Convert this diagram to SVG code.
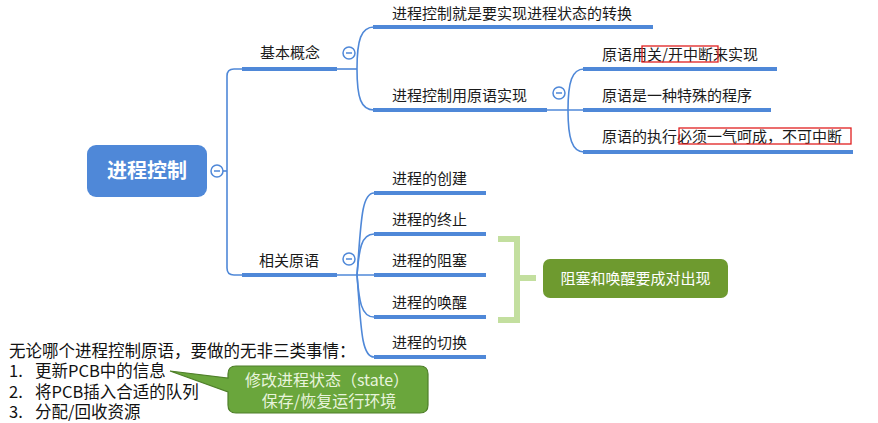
<svg xmlns="http://www.w3.org/2000/svg" width="878" height="423" viewBox="0 0 878 423">
<style>
.t{font-family:"Noto Sans CJK SC","Liberation Sans",sans-serif;font-size:15px;fill:#1a1a1a}
.ln{fill:none;stroke:#4f88d8;stroke-width:1.6}
.ul{stroke:#4f88d8;stroke-width:4}
.col circle{fill:#fff;stroke:#4f88d8;stroke-width:1.5}
.col line{stroke:#4f88d8;stroke-width:1.5}
.red{fill:none;stroke:#e02020;stroke-width:1.3}
.b{font-family:"Noto Sans CJK SC","Liberation Sans",sans-serif;font-size:16.500px;fill:#111}
</style>
<defs>
<g id="minus" class="col"><circle r="6"/><line x1="-3" y1="0" x2="3" y2="0"/></g>
</defs>

<g id="connectors">
  <line class="ln" x1="223" y1="171" x2="227" y2="171"/>
  <path class="ln" d="M242,69 H234 Q227,69 227,76 V268 Q227,275 234,275 H242"/>
  <line class="ln" x1="337" y1="69" x2="357" y2="69"/>
  <line class="ln" x1="337" y1="275" x2="374" y2="275"/>
  <path class="ln" d="M357,69 C357,40 361,27 374,27"/>
  <path class="ln" d="M357,69 C357,98 361,110 374,110"/>
  <line class="ln" x1="547" y1="110" x2="583" y2="110"/>
  <path class="ln" d="M568,110 C568,82 572,69 584,69"/>
  <path class="ln" d="M568,110 C568,138 572,152 584,152"/>
  <path class="ln" d="M357,275 C361,225 361,193 374,193"/>
  <path class="ln" d="M357,275 C359,250 361,234 374,234"/>
  <path class="ln" d="M357,275 C359,300 361,317 374,317"/>
  <path class="ln" d="M357,275 C361,325 361,357 374,357"/>
  <g id="underlines">
    <line class="ul" x1="242" y1="69" x2="337" y2="69"/>
    <line class="ul" x1="242" y1="275" x2="337" y2="275"/>
    <line class="ul" x1="373" y1="27" x2="653" y2="27"/>
    <line class="ul" x1="373" y1="110" x2="547" y2="110"/>
    <line class="ul" x1="583" y1="69" x2="777" y2="69"/>
    <line class="ul" x1="583" y1="110" x2="771" y2="110"/>
    <line class="ul" x1="583" y1="152" x2="853" y2="152"/>
    <line class="ul" x1="374" y1="193" x2="486" y2="193"/>
    <line class="ul" x1="374" y1="234" x2="486" y2="234"/>
    <line class="ul" x1="374" y1="275" x2="486" y2="275"/>
    <line class="ul" x1="374" y1="317" x2="486" y2="317"/>
    <line class="ul" x1="374" y1="357" x2="486" y2="357"/>
  </g>
  <path d="M498,239 H517 V320 H498 M517,278 H536" fill="none" stroke="#c3df9f" stroke-width="6"/>
</g>

<g id="root">
  <rect x="87" y="145" width="120" height="52" rx="9" fill="#4f88d8"/>
  <text x="147" y="178" text-anchor="middle" font-family="Noto Sans CJK SC,sans-serif" font-size="20" font-weight="bold" fill="#fff">进程控制</text>
  <use href="#minus" x="217" y="171"/>
</g>

<g id="n-basic">
  <text class="t" x="290" y="58" text-anchor="middle">基本概念</text>
  <use href="#minus" x="349" y="53"/>
</g>
<g id="n-basic1"><text class="t" x="392" y="19">进程控制就是要实现进程状态的转换</text></g>
<g id="n-basic2">
  <text class="t" x="392" y="101">进程控制用原语实现</text>
  <use href="#minus" x="559" y="93"/>
</g>
<g id="n-p1">
  <text class="t" x="602" y="60">原语用关/开中断来实现</text>
  <rect class="red" x="642" y="46" width="76" height="16"/>
</g>
<g id="n-p2"><text class="t" x="602" y="101">原语是一种特殊的程序</text></g>
<g id="n-p3">
  <text class="t" x="602" y="142">原语的执行必须一气呵成，不可中断</text>
  <rect class="red" x="679" y="128" width="172" height="16"/>
</g>

<g id="n-rel">
  <text class="t" x="289" y="266" text-anchor="middle">相关原语</text>
  <use href="#minus" x="349" y="259"/>
</g>
<g id="n-r1"><text class="t" x="392" y="184">进程的创建</text></g>
<g id="n-r2"><text class="t" x="392" y="225">进程的终止</text></g>
<g id="n-r3"><text class="t" x="392" y="266">进程的阻塞</text></g>
<g id="n-r4"><text class="t" x="392" y="308">进程的唤醒</text></g>
<g id="n-r5"><text class="t" x="392" y="348">进程的切换</text></g>

<g id="n-pair">
  <rect x="543" y="259" width="185" height="39" rx="7" fill="#6e9a2f"/>
  <text x="635.500" y="284" text-anchor="middle" font-family="Noto Sans CJK SC,sans-serif" font-size="15" fill="#fff">阻塞和唤醒要成对出现</text>
</g>

<g id="notes">
  <text class="b" x="9" y="357">无论哪个进程控制原语，要做的无非三类事情：</text>
  <text class="b" x="9" y="377">1.</text><text class="b" x="35" y="377">更新PCB中的信息</text>
  <text class="b" x="9" y="398">2.</text><text class="b" x="35" y="398">将PCB插入合适的队列</text>
  <text class="b" x="9" y="418">3.</text><text class="b" x="35" y="418">分配/回收资源</text>
</g>

<g id="callout">
  <path d="M236,366 H420 Q428,366 428,374 V405 Q428,413 420,413 H236 Q228,413 228,405 V392 L170,371 L228,378 V374 Q228,366 236,366 Z" fill="#6aa63c" stroke="#4f7f2a" stroke-width="1.2"/>
  <text x="327" y="386" text-anchor="middle" font-family="Noto Sans CJK SC,sans-serif" font-size="16" fill="#e8f4dc">修改进程状态（state）</text>
  <text x="329" y="407" text-anchor="middle" font-family="Noto Sans CJK SC,sans-serif" font-size="16" fill="#e8f4dc">保存/恢复运行环境</text>
</g>
</svg>
